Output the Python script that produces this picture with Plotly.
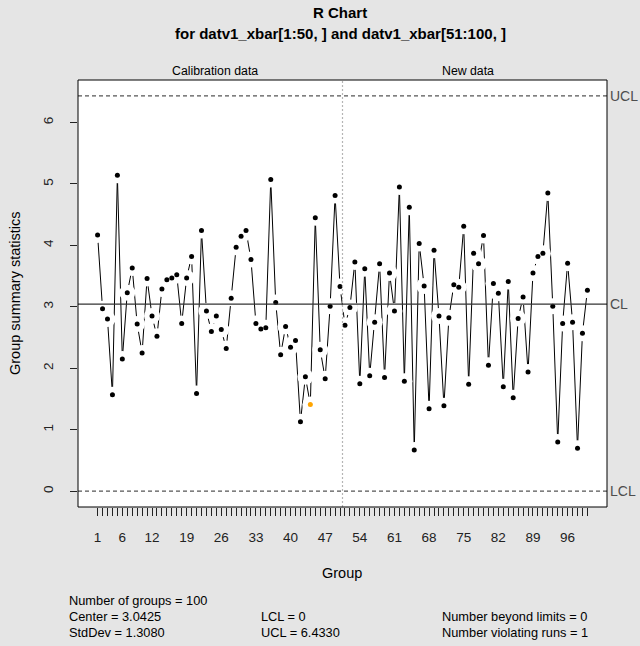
import plotly.graph_objects as go

# ---- data ----
groups = list(range(1, 101))
values = [
    4.17, 2.97, 2.80, 1.57, 5.14, 2.15, 3.23, 3.63, 2.72, 2.25,
    3.46, 2.85, 2.52, 3.29, 3.44, 3.47, 3.52, 2.73, 3.47, 3.82,
    1.59, 4.24, 2.93, 2.60, 2.85, 2.63, 2.32, 3.14, 3.97, 4.15,
    4.24, 3.77, 2.73, 2.64, 2.66, 5.07, 3.07, 2.22, 2.68, 2.34,
    2.45, 1.13, 1.86, 1.41, 4.45, 2.30, 1.83, 3.01, 4.81, 3.33,
    2.70, 2.99, 3.73, 1.75, 3.62, 1.88, 2.75, 3.70, 1.85, 3.55,
    2.93, 4.95, 1.79, 4.62, 0.67, 4.03, 3.34, 1.34, 3.92, 2.85,
    1.39, 2.82, 3.36, 3.32, 4.31, 1.74, 3.87, 3.70, 4.16, 2.05,
    3.38, 3.22, 1.70, 3.41, 1.52, 2.81, 3.16, 1.94, 3.55, 3.82,
    3.87, 4.85, 3.01, 0.80, 2.73, 3.71, 2.75, 0.70, 2.57, 3.27,
]
violating = [44]
center = 3.0425
lcl = 0.0
ucl = 6.4330
std_dev = 1.3080
n_calib = 50
x_tick_labels = [1, 6, 12, 19, 26, 33, 40, 47, 54, 61, 68, 75, 82, 89, 96]
y_ticks = [0, 1, 2, 3, 4, 5, 6]

# ---- layout geometry ----
W, H = 640, 646
L, R, T, B = 78, 607, 80, 507
FONT = "Liberation Sans, Arial, Helvetica, sans-serif"
BG = "#e5e5e5"

def px(xp):
    return (xp - L) / (R - L)

def py(yp):
    return (B - yp) / (B - T)

xmin, xmax = 1, len(groups)
xext = (xmax - xmin) * 0.04
ymin, ymax = min(values + [lcl, ucl, center]), max(values + [lcl, ucl, center])
yext = (ymax - ymin) * 0.04

fig = go.Figure()
fig.add_trace(go.Scatter(x=groups, y=values, mode="lines",
                         line=dict(color="black", width=1), hoverinfo="skip"))
fig.add_trace(go.Scatter(x=groups, y=values, mode="markers",
                         marker=dict(color="white", size=16), hoverinfo="skip"))
norm_x = [g for g in groups if g not in violating]
norm_y = [v for g, v in zip(groups, values) if g not in violating]
fig.add_trace(go.Scatter(x=norm_x, y=norm_y, mode="markers",
                         marker=dict(color="black", size=5)))
fig.add_trace(go.Scatter(x=violating, y=[values[g - 1] for g in violating],
                         mode="markers", marker=dict(color="#FFA500", size=5)))

shapes = [
    dict(type="line", xref="paper", x0=0, x1=1, yref="y", y0=center, y1=center,
         line=dict(color="#333333", width=1.2), layer="above"),
    dict(type="line", xref="paper", x0=0, x1=1, yref="y", y0=ucl, y1=ucl,
         line=dict(color="#555555", width=1.2, dash="4px,3px"), layer="above"),
    dict(type="line", xref="paper", x0=0, x1=1, yref="y", y0=lcl, y1=lcl,
         line=dict(color="#555555", width=1.2, dash="4px,3px"), layer="above"),
    dict(type="line", xref="x", x0=n_calib + 0.5, x1=n_calib + 0.5, yref="paper", y0=0, y1=1,
         line=dict(color="#b5b5b5", width=1.2, dash="2px,2px"), layer="above"),
    dict(type="rect", xref="paper", x0=0, x1=1, yref="paper", y0=0, y1=1,
         line=dict(color="black", width=1), layer="above"),
]

ann = []
def text(t, xp, yp, size=12, color="black", bold=False, xanchor="center", angle=0):
    ann.append(dict(text=f"<b>{t}</b>" if bold else t, xref="paper", yref="paper",
                    x=px(xp), y=py(yp), showarrow=False, xanchor=xanchor, yanchor="middle",
                    textangle=angle, font=dict(family=FONT, size=size, color=color)))

text("R Chart", 340, 12, size=15, bold=True)
text("for datv1_xbar[1:50, ] and datv1_xbar[51:100, ]", 340, 33, size=15, bold=True)
text("Calibration data", 215, 71, size=12.3)
text("New data", 468, 71, size=12.3)
text("Group", 342, 573, size=14.5)
text("Group summary statistics", 15, 293, size=14.5, angle=-90)
for lab, val in [("UCL", ucl), ("CL", center), ("LCL", lcl)]:
    ann.append(dict(text=lab, xref="paper", yref="y", x=1.0, y=val, xshift=1,
                    showarrow=False, xanchor="left", yanchor="middle",
                    font=dict(family=FONT, size=14, color="#4d4d4d")))
STAT = 12.8
text(f"Number of groups = {len(groups)}", 67, 600, size=STAT, xanchor="left")
text(f"Center = {center:.4f}", 67, 616, size=STAT, xanchor="left")
text(f"StdDev = {std_dev:.4f}", 67, 632, size=STAT, xanchor="left")
text(f"LCL = {lcl:g}", 259, 616, size=STAT, xanchor="left")
text(f"UCL = {ucl:.4f}", 259, 632, size=STAT, xanchor="left")
text("Number beyond limits = 0", 440, 616, size=STAT, xanchor="left")
text(f"Number violating runs = {len(violating)}", 440, 632, size=STAT, xanchor="left")

ticktext = [str(g) if g in x_tick_labels else "" for g in groups]

fig.update_layout(
    width=W, height=H,
    margin=dict(l=L, r=W - R, t=T, b=H - B, pad=0, autoexpand=False),
    paper_bgcolor=BG, plot_bgcolor="white",
    showlegend=False,
    font=dict(family=FONT, size=13, color="#222222"),
    shapes=shapes, annotations=ann,
    xaxis=dict(range=[xmin - xext, xmax + xext], tickvals=groups, ticktext=ticktext,
               ticks="outside", ticklen=8, tickwidth=1, tickcolor="#222222",
               showgrid=False, zeroline=False, showline=False, ticklabelstandoff=10,
               tickfont=dict(size=13.5, family=FONT, color="#222222"), tickangle=0),
    yaxis=dict(range=[ymin - yext, ymax + yext], tickvals=y_ticks,
               ticks="outside", ticklen=7, tickwidth=1, tickcolor="#222222",
               showgrid=False, zeroline=False, showline=False, tickangle=-90,
               ticklabelstandoff=12,
               tickfont=dict(size=13.5, family=FONT, color="#222222")),
)

fig.write_html(
    "out.html",
    config={"displayModeBar": False},
    post_script=f"document.body.style.margin='0';document.body.style.background='{BG}';"
                "document.body.style.overflow='hidden';",
)
